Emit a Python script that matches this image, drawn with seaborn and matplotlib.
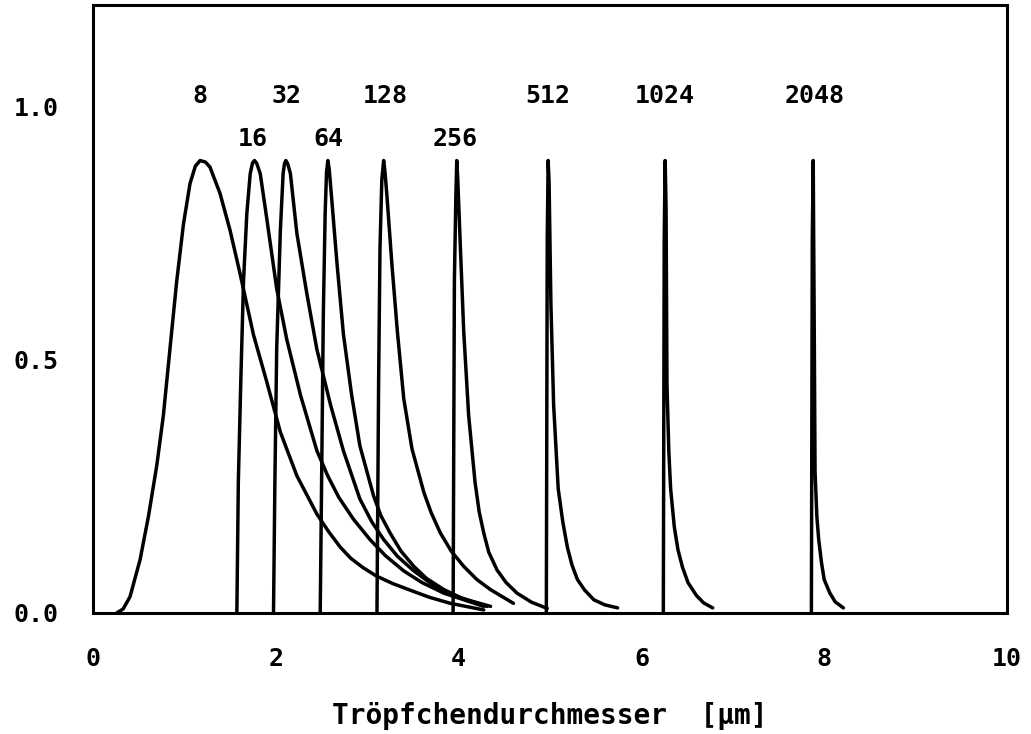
import matplotlib
matplotlib.use("Agg")
import matplotlib.pyplot as plt
import seaborn as sns
import pandas as pd

# ---- data ----
labels = ["8", "16", "32", "64", "128", "256", "512", "1024", "2048"]

x_8 = [0.26, 0.33, 0.405, 0.515, 0.606, 0.697, 0.77, 0.843, 0.916, 0.99, 1.062, 1.12, 1.172,
       1.23, 1.28, 1.39, 1.50, 1.61, 1.756, 1.90, 2.05, 2.23, 2.45, 2.58, 2.705, 2.82, 2.95,
       3.10, 3.28, 3.47, 3.68, 3.91, 4.275]
y_8 = [0.00, 0.008, 0.032, 0.105, 0.19, 0.29, 0.39, 0.523, 0.655, 0.768, 0.848, 0.882, 0.893,
       0.89, 0.88, 0.828, 0.755, 0.669, 0.549, 0.457, 0.357, 0.271, 0.195, 0.16, 0.13, 0.108, 0.09,
       0.073, 0.058, 0.045, 0.031, 0.019, 0.006]

x_16 = [1.574, 1.59, 1.617, 1.647, 1.683, 1.72, 1.745, 1.767, 1.79, 1.83, 1.90, 2.01, 2.12, 2.27,
        2.45, 2.57, 2.69, 2.85, 3.03, 3.20, 3.40, 3.60, 3.84, 4.275]
y_16 = [0.00, 0.258, 0.457, 0.656, 0.788, 0.867, 0.888, 0.893, 0.888, 0.867, 0.78, 0.64, 0.54, 0.43,
        0.32, 0.27, 0.228, 0.185, 0.145, 0.113, 0.083, 0.06, 0.039, 0.013]

x_32 = [1.975, 1.99, 2.01, 2.05, 2.08, 2.095, 2.11, 2.13, 2.16, 2.23, 2.34, 2.45, 2.60, 2.74,
        2.92, 3.05, 3.18, 3.33, 3.51, 3.70, 3.91, 4.31]
y_32 = [0.00, 0.258, 0.523, 0.755, 0.867, 0.887, 0.893, 0.887, 0.867, 0.75, 0.63, 0.52, 0.41, 0.32,
        0.225, 0.18, 0.145, 0.112, 0.083, 0.058, 0.037, 0.013]

x_64 = [2.486, 2.505, 2.52, 2.54, 2.555, 2.57, 2.585, 2.61, 2.67, 2.74, 2.83, 2.92, 3.07, 3.15,
        3.25, 3.37, 3.51, 3.65, 3.84, 4.05, 4.35]
y_64 = [0.00, 0.324, 0.589, 0.788, 0.87, 0.893, 0.875, 0.821, 0.689, 0.55, 0.43, 0.33, 0.231, 0.192,
        0.158, 0.122, 0.092, 0.068, 0.046, 0.028, 0.013]

x_128 = [3.107, 3.125, 3.14, 3.16, 3.18, 3.195, 3.217, 3.27, 3.33, 3.40, 3.49, 3.62, 3.70, 3.80,
         3.92, 4.056, 4.20, 4.35, 4.60]
y_128 = [0.00, 0.457, 0.72, 0.855, 0.893, 0.87, 0.821, 0.689, 0.556, 0.423, 0.324, 0.238, 0.198, 0.158,
         0.122, 0.092, 0.066, 0.046, 0.019]

x_256 = [3.94, 3.954, 3.97, 3.98, 3.99, 4.02, 4.056, 4.11, 4.18, 4.225, 4.275, 4.33, 4.42, 4.52,
         4.64, 4.80, 4.97]
y_256 = [0.00, 0.656, 0.821, 0.893, 0.86, 0.72, 0.556, 0.39, 0.258, 0.2, 0.158, 0.12, 0.085, 0.06,
         0.039, 0.021, 0.009]

x_512 = [4.96, 4.97, 4.98, 4.99, 5.01, 5.04, 5.09, 5.14, 5.19, 5.24, 5.30, 5.38, 5.48, 5.60, 5.74]
y_512 = [0.00, 0.74, 0.893, 0.85, 0.61, 0.41, 0.245, 0.18, 0.13, 0.095, 0.066, 0.045, 0.026, 0.016, 0.010]

x_1024 = [6.24, 6.25, 6.26, 6.27, 6.28, 6.30, 6.32, 6.36, 6.40, 6.45, 6.51, 6.60, 6.68, 6.78]
y_1024 = [0.00, 0.74, 0.893, 0.80, 0.45, 0.32, 0.245, 0.17, 0.125, 0.09, 0.06, 0.035, 0.02, 0.010]

x_2048 = [7.86, 7.87, 7.88, 7.89, 7.90, 7.92, 7.94, 7.97, 8.00, 8.06, 8.12, 8.21]
y_2048 = [0.00, 0.74, 0.893, 0.60, 0.28, 0.19, 0.145, 0.10, 0.066, 0.04, 0.022, 0.010]

label_x = [1.17, 1.75, 2.12, 2.57, 3.20, 3.96, 4.98, 6.26, 7.89]
label_y = [1.02, 0.936, 1.02, 0.936, 1.02, 0.936, 1.02, 1.02, 1.02]

x_ticks = [0, 2, 4, 6, 8, 10]
x_tick_labels = ["0", "2", "4", "6", "8", "10"]
y_ticks = [0.0, 0.5, 1.0]
y_tick_labels = ["0.0", "0.5", "1.0"]
x_label = "Tröpfchendurchmesser  [µm]"

curves = {
    "8": (x_8, y_8), "16": (x_16, y_16), "32": (x_32, y_32),
    "64": (x_64, y_64), "128": (x_128, y_128), "256": (x_256, y_256),
    "512": (x_512, y_512), "1024": (x_1024, y_1024), "2048": (x_2048, y_2048),
}

rows = []
for lab in labels:
    xs, ys = curves[lab]
    for i, (xx, yy) in enumerate(zip(xs, ys)):
        rows.append({"curve": lab, "order": i, "x": xx, "y": yy})
df = pd.DataFrame(rows)

# ---- plotting ----
sns.set_theme(style="white")
plt.rcParams["font.family"] = ["DejaVu Sans Mono", "DejaVu Sans"]
plt.rcParams["font.weight"] = "bold"
plt.rcParams["lines.solid_joinstyle"] = "round"
plt.rcParams["lines.solid_capstyle"] = "round"

fig = plt.figure(figsize=(10.31, 7.34), dpi=100)
ax = fig.add_axes([0.0902, 0.1649, 0.9767 - 0.0902, 0.9932 - 0.1649])

sns.lineplot(data=df, x="x", y="y", hue="curve", hue_order=labels,
             palette=["black"] * len(labels), estimator=None, sort=False,
             linewidth=2.5, legend=False, ax=ax)

for lab, lx, ly in zip(labels, label_x, label_y):
    ax.text(lx, ly, lab, ha="center", va="center", fontsize=18,
            fontweight="bold", color="black")

ax.set_xlim(0, 10)
ax.set_ylim(0, 1.2)
ax.set_xticks(x_ticks)
ax.set_xticklabels(x_tick_labels)
ax.set_yticks(y_ticks)
ax.set_yticklabels(y_tick_labels)
ax.tick_params(axis="both", direction="inout", length=5, width=2,
               labelsize=18, colors="black")
ax.tick_params(axis="x", pad=22)
ax.tick_params(axis="y", pad=22)
for lbl in ax.get_xticklabels() + ax.get_yticklabels():
    lbl.set_fontweight("bold")

for sp in ax.spines.values():
    sp.set_visible(True)
    sp.set_color("black")
    sp.set_linewidth(2.2)

ax.set_xlabel(x_label, fontsize=20, fontweight="bold", labelpad=22, color="black")
ax.set_ylabel("")

fig.savefig("out.png", dpi=100)
